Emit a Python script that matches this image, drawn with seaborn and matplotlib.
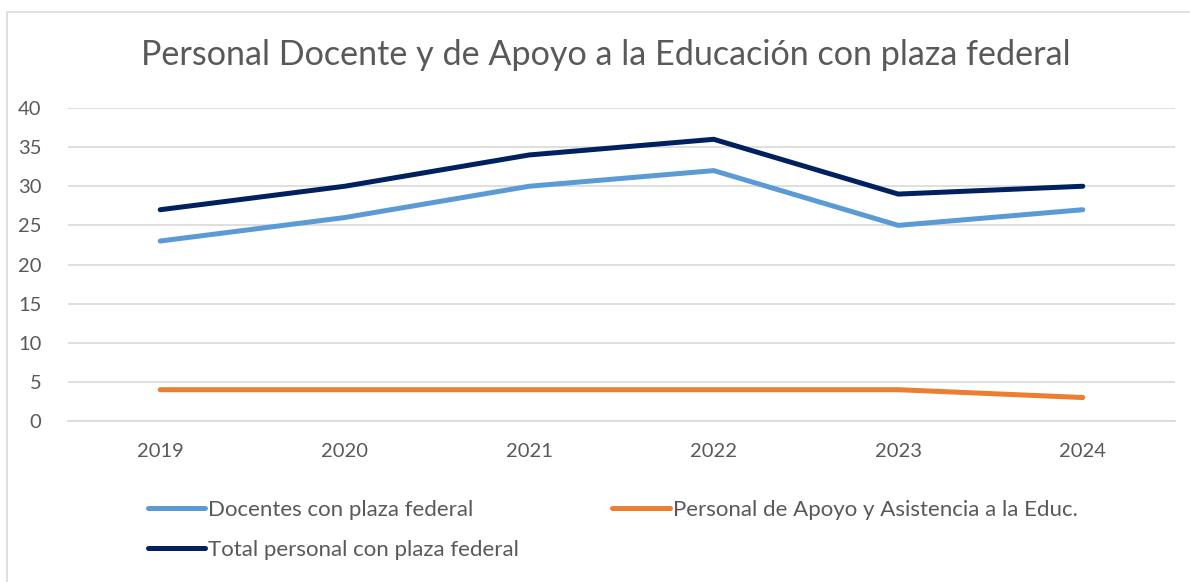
import matplotlib
matplotlib.use('Agg')
import matplotlib.pyplot as plt
from matplotlib.patches import Rectangle
import pandas as pd
import seaborn as sns

# data
years = ['2019', '2020', '2021', '2022', '2023', '2024']
docentes = [23, 26, 30, 32, 25, 27]
apoyo = [4, 4, 4, 4, 4, 3]
total = [27, 30, 34, 36, 29, 30]
series_names = ['Docentes con plaza federal',
                'Personal de Apoyo y Asistencia a la Educ.',
                'Total personal con plaza federal']
colors = ['#5B9BD5', '#ED7D31', '#002060']

sns.set_theme(style='white')
plt.rcParams['font.family'] = ['Lato', 'DejaVu Sans']
text_color = '#595959'
grid_color = '#D9D9D9'

df = pd.DataFrame({
    'Año': years * 3,
    'Valor': docentes + apoyo + total,
    'Serie': [series_names[0]] * 6 + [series_names[1]] * 6 + [series_names[2]] * 6,
})

fig = plt.figure(figsize=(11.9, 5.82), dpi=100)
fig.patch.set_facecolor('white')
# chart area border (only top and left visible in the crop)
fig.patches.append(Rectangle((7 / 1190, -0.5), 2, 1.5 - 12 / 582, transform=fig.transFigure,
                             fill=False, edgecolor=grid_color, linewidth=1.2))

ax = fig.add_axes([68 / 1190, (582 - 421) / 582, (1175 - 68) / 1190, 313 / 582])
sns.lineplot(data=df, x='Año', y='Valor', hue='Serie', palette=colors,
             linewidth=3.6, ax=ax, legend=False, sort=False)
for ln in ax.lines:
    ln.set_solid_capstyle('round')
    ln.set_solid_joinstyle('round')

ax.set_xlim(-0.5, 5.5)
ax.set_ylim(0, 40)
ax.set_yticks(range(0, 41, 5))
ax.yaxis.grid(True, color=grid_color, linewidth=1.2)
ax.set_axisbelow(True)
for s in ['top', 'right', 'left']:
    ax.spines[s].set_visible(False)
ax.spines['bottom'].set_color(grid_color)
ax.spines['bottom'].set_linewidth(1.2)
ax.tick_params(axis='y', length=0, pad=19, labelsize=14.5, labelcolor=text_color)
ax.tick_params(axis='x', length=0, pad=16, labelsize=14.5, labelcolor=text_color)
ax.set_xlabel('')
ax.set_ylabel('')

fig.text(606 / 1190, 1 - 55 / 582, 'Personal Docente y de Apoyo a la Educación con plaza federal',
         ha='center', va='center', fontsize=24.6, color=text_color)

handles = ax.lines[:3]
order = [0, 2, 1]
fig.legend([handles[i] for i in order], [series_names[i] for i in order],
           ncol=2, loc='upper left', bbox_to_anchor=(148 / 1190, 1 - 500 / 582),
           frameon=False, borderpad=0, borderaxespad=0, fontsize=16,
           handlelength=2.57, handletextpad=0.14, columnspacing=4.2,
           labelspacing=0.88, labelcolor=text_color)

fig.savefig('out.png', dpi=100)
